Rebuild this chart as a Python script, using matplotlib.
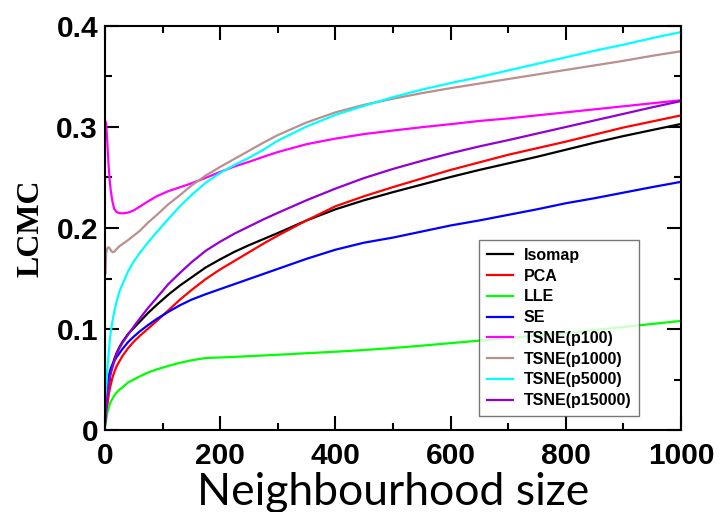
import matplotlib
matplotlib.use("Agg")
import matplotlib.pyplot as plt
from matplotlib.ticker import MultipleLocator

# Neighbourhood sizes (shared x grid)
k = [1, 2, 4, 6, 8, 10, 13, 16, 20, 25, 30, 40, 50, 60, 75, 90, 110, 130, 150, 175,
     200, 225, 250, 275, 300, 350, 400, 450, 500, 550, 600, 650, 700, 750, 800, 850, 900, 950, 1000]

isomap = [0.010, 0.020, 0.036, 0.047, 0.053, 0.058, 0.064, 0.070, 0.076, 0.082, 0.087, 0.095, 0.101, 0.107, 0.116, 0.124, 0.134, 0.143, 0.151, 0.161,
          0.169, 0.1765, 0.183, 0.189, 0.195, 0.2075, 0.2185, 0.2275, 0.2355, 0.243, 0.2505, 0.2575, 0.264, 0.2705, 0.2775, 0.2845, 0.291, 0.297, 0.303]
pca = [0.007, 0.013, 0.024, 0.033, 0.040, 0.045, 0.052, 0.057, 0.063, 0.068, 0.073, 0.081, 0.0875, 0.093, 0.1005, 0.108, 0.1185, 0.129, 0.1385, 0.1495,
       0.159, 0.1675, 0.176, 0.1845, 0.1925, 0.2075, 0.2215, 0.2315, 0.2405, 0.249, 0.2575, 0.265, 0.2725, 0.279, 0.2855, 0.2925, 0.2995, 0.3055, 0.3115]
lle = [0.005, 0.010, 0.017, 0.021, 0.025, 0.028, 0.031, 0.034, 0.037, 0.040, 0.042, 0.047, 0.050, 0.053, 0.057, 0.060, 0.0635, 0.0665, 0.069, 0.0713,
       0.0718, 0.0724, 0.0731, 0.0738, 0.0745, 0.076, 0.0775, 0.0792, 0.0812, 0.0835, 0.086, 0.0885, 0.091, 0.0935, 0.096, 0.099, 0.102, 0.105, 0.108]
se = [0.015, 0.027, 0.043, 0.052, 0.057, 0.061, 0.065, 0.068, 0.072, 0.076, 0.080, 0.087, 0.0925, 0.0975, 0.104, 0.110, 0.117, 0.1235, 0.129, 0.1345,
      0.1395, 0.1445, 0.1495, 0.1545, 0.1595, 0.1695, 0.1785, 0.1855, 0.1905, 0.1965, 0.2025, 0.2075, 0.213, 0.2185, 0.2245, 0.2295, 0.235, 0.2405, 0.2457]
tsne_p100 = [0.305, 0.3037, 0.285, 0.264, 0.248, 0.237, 0.226, 0.219, 0.2158, 0.2147, 0.2145, 0.2152, 0.2175, 0.221, 0.2265, 0.2315, 0.2365, 0.2403, 0.2442, 0.2497,
             0.2555, 0.261, 0.2655, 0.2705, 0.2752, 0.283, 0.2885, 0.293, 0.2965, 0.2998, 0.3028, 0.306, 0.3085, 0.3115, 0.3145, 0.3175, 0.3205, 0.3235, 0.3265]
tsne_p1000 = [0.155, 0.175, 0.180, 0.181, 0.180, 0.178, 0.176, 0.1765, 0.179, 0.182, 0.184, 0.188, 0.1925, 0.197, 0.2055, 0.213, 0.2235, 0.2325, 0.242, 0.252,
              0.2605, 0.2685, 0.2765, 0.2845, 0.292, 0.3045, 0.3145, 0.322, 0.328, 0.3335, 0.3385, 0.343, 0.3475, 0.352, 0.3565, 0.361, 0.3655, 0.3705, 0.375]
tsne_p5000 = [0.030, 0.040, 0.060, 0.073, 0.087, 0.097, 0.108, 0.117, 0.127, 0.137, 0.144, 0.157, 0.167, 0.175, 0.186, 0.196, 0.209, 0.2215, 0.2325, 0.245,
              0.2545, 0.2625, 0.2695, 0.2775, 0.2865, 0.3005, 0.312, 0.321, 0.3295, 0.337, 0.3435, 0.3495, 0.356, 0.3625, 0.369, 0.3755, 0.3815, 0.388, 0.394]
tsne_p15000 = [0.008, 0.018, 0.032, 0.042, 0.050, 0.056, 0.062, 0.068, 0.075, 0.081, 0.086, 0.0945, 0.1025, 0.110, 0.121, 0.131, 0.1445, 0.1555, 0.166, 0.1775,
               0.1865, 0.1945, 0.2015, 0.2085, 0.215, 0.2275, 0.239, 0.2495, 0.2585, 0.2665, 0.274, 0.2808, 0.287, 0.2935, 0.300, 0.3065, 0.313, 0.3195, 0.3257]

labels = ["Isomap", "PCA", "LLE", "SE", "TSNE(p100)", "TSNE(p1000)", "TSNE(p5000)", "TSNE(p15000)"]
series = [isomap, pca, lle, se, tsne_p100, tsne_p1000, tsne_p5000, tsne_p15000]
colors = ["#000000", "#ff0000", "#00ff00", "#0000ff", "#ff00ff", "#bc8f8f", "#00ffff", "#9400d3"]

x_ticks = [0, 200, 400, 600, 800, 1000]
y_ticks = [0, 0.1, 0.2, 0.3, 0.4]
y_tick_labels = ["0", "0.1", "0.2", "0.3", "0.4"]

fig = plt.figure(figsize=(7.22, 5.12), dpi=100)
ax = fig.add_axes([105/722, 1-430/512, (681-105)/722, (430-26)/512])

for ys, lab, c in zip(series, labels, colors):
    ax.plot(k, ys, color=c, lw=1.6, label=lab)

ax.set_xlim(0, 1000)
ax.set_ylim(0, 0.4)
ax.set_xticks(x_ticks)
ax.set_yticks(y_ticks)
ax.set_yticklabels(y_tick_labels)
ax.xaxis.set_minor_locator(MultipleLocator(100))
ax.yaxis.set_minor_locator(MultipleLocator(0.05))
ax.tick_params(which="both", direction="in", top=True, right=True, width=1.5)
ax.tick_params(which="major", length=10)
ax.tick_params(which="minor", length=5)
ax.tick_params(axis="x", pad=9)
ax.tick_params(axis="y", pad=5)
for lbl in ax.get_xticklabels() + ax.get_yticklabels():
    lbl.set_fontfamily("Liberation Sans")
    lbl.set_fontweight("bold")
    lbl.set_fontsize(21.5)
for sp in ax.spines.values():
    sp.set_linewidth(1.5)

ax.set_xlabel("Neighbourhood size", fontfamily="Lato", fontsize=32, labelpad=1)
ax.set_ylabel("LCMC", fontfamily="Liberation Serif", fontweight="bold", fontsize=23, labelpad=8)

leg = ax.legend(loc="upper left", bbox_to_anchor=((479-105)/576, (430-240)/404),
                prop={"family": "Liberation Sans", "weight": "bold", "size": 11.5},
                frameon=True, fancybox=False, borderaxespad=0, handlelength=1.6,
                handletextpad=0.7, labelspacing=0.36, borderpad=0.5)
leg.get_frame().set_edgecolor("#555555")
leg.get_frame().set_linewidth(1.0)

fig.savefig("out.png", dpi=100)
